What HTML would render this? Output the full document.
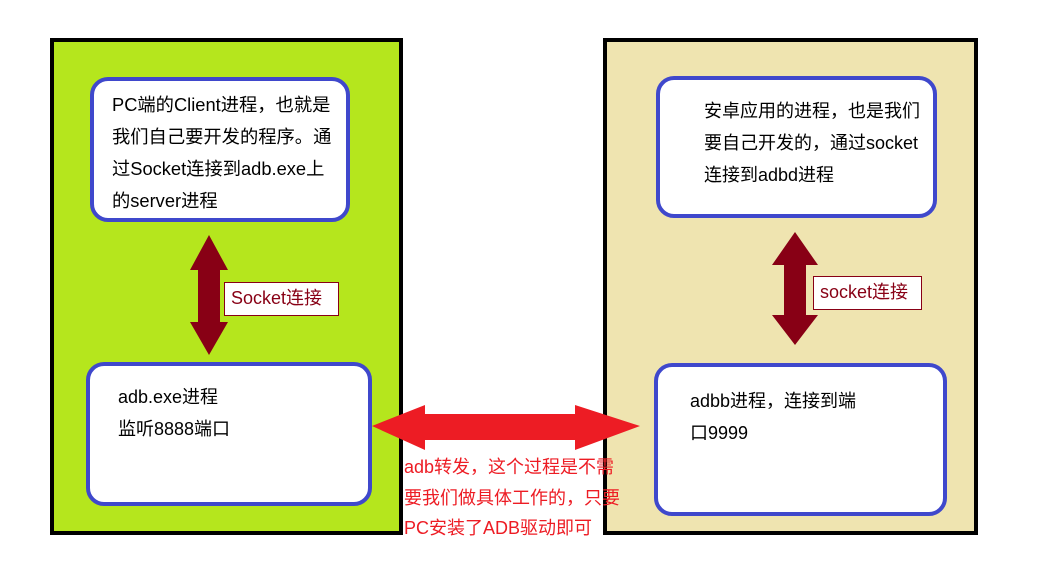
<!DOCTYPE html>
<html><head><meta charset="utf-8"><style>
body{margin:0;width:1046px;height:573px;background:#fff;position:relative;overflow:hidden;font-family:"Liberation Sans","Noto Sans CJK SC",sans-serif}
div{position:absolute;box-sizing:border-box}
.p{border:4px solid #000}
.b{border:4px solid #3f48cc;background:#fff;border-radius:18px;font-size:18px;line-height:32px;color:#000}
.l{border:1px solid #880015;background:#fff;color:#880015;font-size:18px;line-height:31px;padding-left:6px}
</style></head><body>
<div class="p" style="left:50px;top:38px;width:353px;height:497px;background:#b5e61d"></div>
<div class="p" style="left:603px;top:38px;width:375px;height:497px;background:#efe4b0"></div>
<div class="b" style="left:90px;top:77px;width:260px;height:145px;padding:8px 0 0 18px;font-size:18.3px">PC端的Client进程，也就是<br>我们自己要开发的程序。通<br>过Socket连接到adb.exe上<br>的server进程</div>
<div class="b" style="left:86px;top:362px;width:286px;height:144px;padding:15px 0 0 28px">adb.exe进程<br>监听8888端口</div>
<div class="b" style="left:656px;top:76px;width:281px;height:142px;padding:15px 0 0 44px">安卓应用的进程，也是我们<br>要自己开发的，通过socket<br>连接到adbd进程</div>
<div class="b" style="left:654px;top:363px;width:293px;height:153px;padding:18px 0 0 32px">adbb进程，连接到端<br>口9999</div>
<div class="l" style="left:224px;top:282px;width:115px;height:34px">Socket连接</div>
<div class="l" style="left:813px;top:276px;width:109px;height:34px">socket连接</div>
<svg style="position:absolute;left:0;top:0" width="1046" height="573">
<polygon points="209,235 228,270 220,270 220,322 228,322 209,355 190,322 198,322 198,270 190,270" fill="#880015"/>
<polygon points="795,232 818,265 806,265 806,315 818,315 795,345 772,315 784,315 784,265 772,265" fill="#880015"/>
<polygon points="372,426 425,405 425,414 575,414 575,405 640,426 575,450 575,440 425,440 425,450" fill="#ed1c24"/>
</svg>
<div style="left:404px;top:452px;color:#ed1c24;font-size:18px;line-height:30.5px">adb转发，这个过程是不需<br>要我们做具体工作的，只要<br>PC安装了ADB驱动即可</div>
</body></html>
